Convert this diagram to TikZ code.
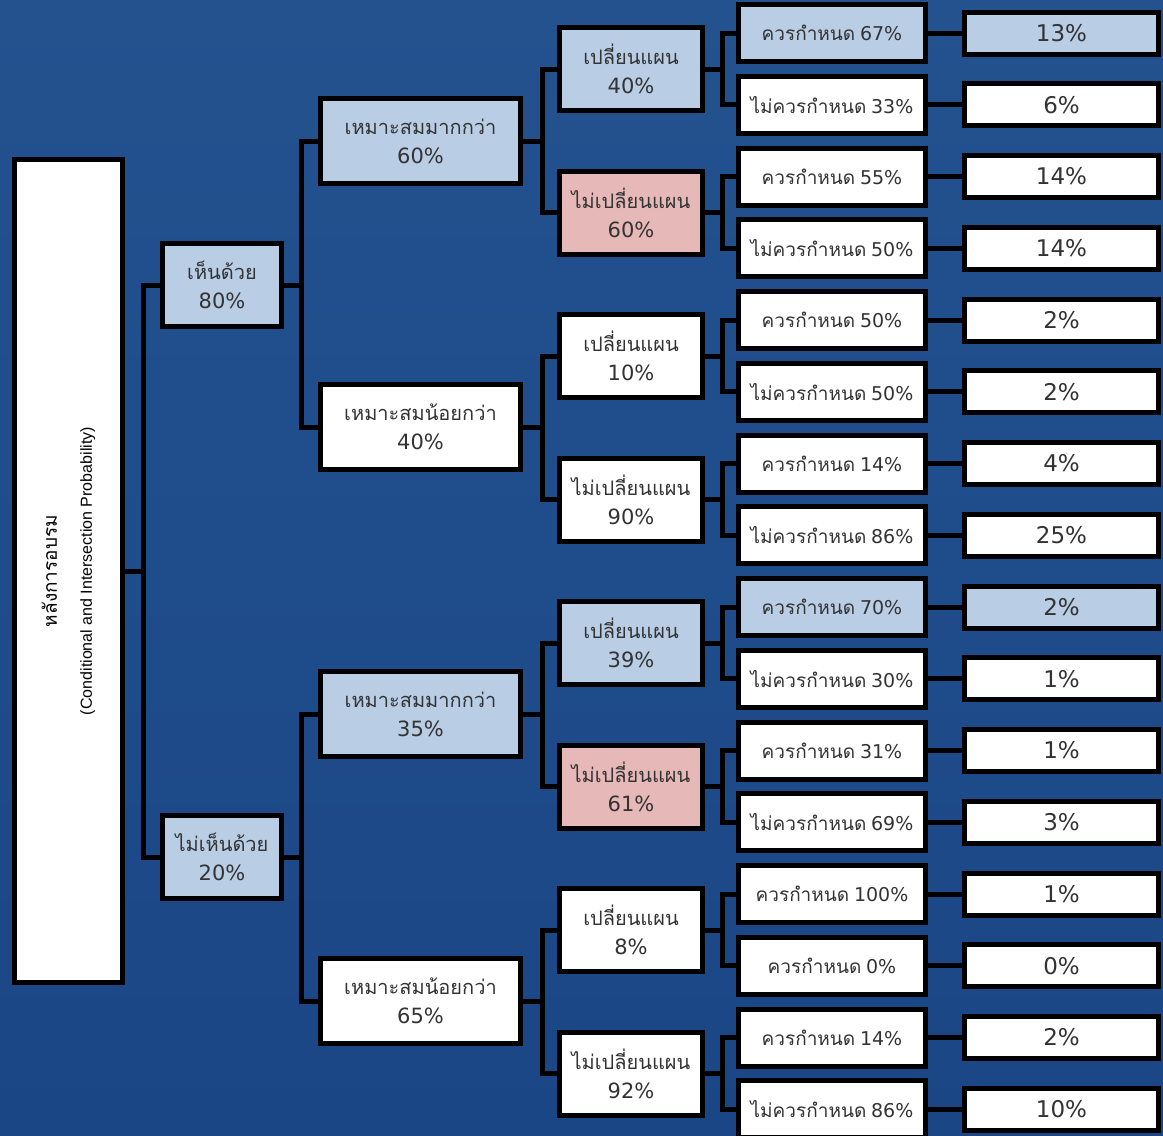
\documentclass[tikz,border=0pt]{standalone}
\usepackage{fontspec}
\setmainfont{DejaVu Sans}
\newfontfamily\thai[Script=Thai]{Loma}
\newfontfamily\lat{Liberation Sans}
\usetikzlibrary{calc}
\definecolor{bgtop}{HTML}{23528F}
\definecolor{bgbot}{HTML}{1B4686}
\definecolor{lblue}{HTML}{B9CDE5}
\definecolor{lpink}{HTML}{E6B9B8}
\definecolor{txt}{HTML}{333333}
\newcommand\thx[1]{{\thai\fontsize{20}{30}\selectfont #1}}
\newcommand\thy[1]{{\thai\fontsize{19}{30}\selectfont #1}}
\newcommand\pca[1]{{\fontsize{21}{30}\selectfont #1}}
\newcommand\pc[1]{{\fontsize{19}{30}\selectfont #1}}
\newcommand\pcb[1]{{\fontsize{23}{30}\selectfont #1}}
\begin{document}
\begin{tikzpicture}[x=1pt,y=-1pt,
  box/.style={draw=black, line width=5pt, text=txt, align=center, inner sep=0pt, fill=white, font=\fontsize{15}{29}\selectfont},
  bfill/.style={fill=lblue}, pfill/.style={fill=lpink},
  rootbox/.style={box, minimum width=108pt, minimum height=823pt},
  lone/.style={box, minimum width=119pt, minimum height=83pt},
  ltwo/.style={box, minimum width=200pt, minimum height=85pt},
  lthree/.style={box, minimum width=143pt, minimum height=83pt},
  lfour/.style={box, minimum width=187pt, minimum height=57pt},
  lfive/.style={box, minimum width=194pt, minimum height=42pt},
  conn/.style={draw=black, line width=5pt, line join=miter}]
\useasboundingbox (0,0) rectangle (1163,1136);
\shade[top color=bgtop, bottom color=bgbot] (0,0) rectangle (1163,1136);

% trunk x positions
\coordinate (t0) at (143,0);
\coordinate (t1) at (301,0);
\coordinate (t2) at (542,0);
\coordinate (t3) at (722,0);

% root
\node[rootbox] (root) at (68.5,571) {};
\node[rotate=90, align=center, text=black, inner sep=0pt, font=\fontsize{16}{35}\selectfont] (rootlabel) at (root.center)
  {{\thai\fontsize{19}{35}\selectfont หลังการอบรม}\\{\lat\fontsize{16}{35}\selectfont (Conditional and Intersection Probability)}};

% level 1
\node[lone, bfill] (a1) at (222,285) {\thx{เห็นด้วย}\\\pca{80\%}};
\node[lone, bfill] (a2) at (222,857) {\thx{ไม่เห็นด้วย}\\\pca{20\%}};

% level 2
\node[ltwo, bfill] (b1) at (420.5,141) {\thx{เหมาะสมมากกว่า}\\\pca{60\%}};
\node[ltwo] (b2) at (420.5,427) {\thx{เหมาะสมน้อยกว่า}\\\pca{40\%}};
\node[ltwo, bfill] (b3) at (420.5,714) {\thx{เหมาะสมมากกว่า}\\\pca{35\%}};
\node[ltwo] (b4) at (420.5,1001) {\thx{เหมาะสมน้อยกว่า}\\\pca{65\%}};

% level 3
\node[lthree, bfill] (c1) at (631,69) {\thx{เปลี่ยนแผน}\\\pca{40\%}};
\node[lthree, pfill] (c2) at (631,212.5) {\thx{ไม่เปลี่ยนแผน}\\\pca{60\%}};
\node[lthree] (c3) at (631,356) {\thx{เปลี่ยนแผน}\\\pca{10\%}};
\node[lthree] (c4) at (631,499.5) {\thx{ไม่เปลี่ยนแผน}\\\pca{90\%}};
\node[lthree, bfill] (c5) at (631,643) {\thx{เปลี่ยนแผน}\\\pca{39\%}};
\node[lthree, pfill] (c6) at (631,786.5) {\thx{ไม่เปลี่ยนแผน}\\\pca{61\%}};
\node[lthree] (c7) at (631,930) {\thx{เปลี่ยนแผน}\\\pca{8\%}};
\node[lthree] (c8) at (631,1073.5) {\thx{ไม่เปลี่ยนแผน}\\\pca{92\%}};

% level 4
\node[lfour, bfill] (d1) at (832,33.1) {\thy{ควรกำหนด} \pc{67\%}};
\node[lfour] (d2) at (832,104.9) {\thy{ไม่ควรกำหนด} \pc{33\%}};
\node[lfour] (d3) at (832,176.6) {\thy{ควรกำหนด} \pc{55\%}};
\node[lfour] (d4) at (832,248.4) {\thy{ไม่ควรกำหนด} \pc{50\%}};
\node[lfour] (d5) at (832,320.1) {\thy{ควรกำหนด} \pc{50\%}};
\node[lfour] (d6) at (832,391.9) {\thy{ไม่ควรกำหนด} \pc{50\%}};
\node[lfour] (d7) at (832,463.6) {\thy{ควรกำหนด} \pc{14\%}};
\node[lfour] (d8) at (832,535.4) {\thy{ไม่ควรกำหนด} \pc{86\%}};
\node[lfour, bfill] (d9) at (832,607.1) {\thy{ควรกำหนด} \pc{70\%}};
\node[lfour] (d10) at (832,678.9) {\thy{ไม่ควรกำหนด} \pc{30\%}};
\node[lfour] (d11) at (832,750.6) {\thy{ควรกำหนด} \pc{31\%}};
\node[lfour] (d12) at (832,822.4) {\thy{ไม่ควรกำหนด} \pc{69\%}};
\node[lfour] (d13) at (832,894.1) {\thy{ควรกำหนด} \pc{100\%}};
\node[lfour] (d14) at (832,965.9) {\thy{ควรกำหนด} \pc{0\%}};
\node[lfour] (d15) at (832,1037.6) {\thy{ควรกำหนด} \pc{14\%}};
\node[lfour] (d16) at (832,1109.4) {\thy{ไม่ควรกำหนด} \pc{86\%}};

% level 5
\node[lfive, bfill] (e1) at (1061.5,33.1) {\pcb{13\%}};
\node[lfive] (e2) at (1061.5,104.9) {\pcb{6\%}};
\node[lfive] (e3) at (1061.5,176.6) {\pcb{14\%}};
\node[lfive] (e4) at (1061.5,248.4) {\pcb{14\%}};
\node[lfive] (e5) at (1061.5,320.1) {\pcb{2\%}};
\node[lfive] (e6) at (1061.5,391.9) {\pcb{2\%}};
\node[lfive] (e7) at (1061.5,463.6) {\pcb{4\%}};
\node[lfive] (e8) at (1061.5,535.4) {\pcb{25\%}};
\node[lfive, bfill] (e9) at (1061.5,607.1) {\pcb{2\%}};
\node[lfive] (e10) at (1061.5,678.9) {\pcb{1\%}};
\node[lfive] (e11) at (1061.5,750.6) {\pcb{1\%}};
\node[lfive] (e12) at (1061.5,822.4) {\pcb{3\%}};
\node[lfive] (e13) at (1061.5,894.1) {\pcb{1\%}};
\node[lfive] (e14) at (1061.5,965.9) {\pcb{0\%}};
\node[lfive] (e15) at (1061.5,1037.6) {\pcb{2\%}};
\node[lfive] (e16) at (1061.5,1109.4) {\pcb{10\%}};

% connectors
\foreach \c in {a1,a2} \draw[conn] (root.east) -- (root.east -| t0) |- (\c.west);
\draw[conn] (a1.east) -- (a1.east -| t1) |- (b1.west);
\draw[conn] (a1.east) -- (a1.east -| t1) |- (b2.west);
\draw[conn] (a2.east) -- (a2.east -| t1) |- (b3.west);
\draw[conn] (a2.east) -- (a2.east -| t1) |- (b4.west);
\foreach \p/\x/\y in {b1/c1/c2, b2/c3/c4, b3/c5/c6, b4/c7/c8} {
  \draw[conn] (\p.east) -- (\p.east -| t2) |- (\x.west);
  \draw[conn] (\p.east) -- (\p.east -| t2) |- (\y.west);
}
\foreach \p/\x/\y in {c1/d1/d2, c2/d3/d4, c3/d5/d6, c4/d7/d8, c5/d9/d10, c6/d11/d12, c7/d13/d14, c8/d15/d16} {
  \draw[conn] (\p.east) -- (\p.east -| t3) |- (\x.west);
  \draw[conn] (\p.east) -- (\p.east -| t3) |- (\y.west);
}
\foreach \i in {1,...,16} \draw[conn] (d\i.east) -- (e\i.west);
\end{tikzpicture}
\end{document}
